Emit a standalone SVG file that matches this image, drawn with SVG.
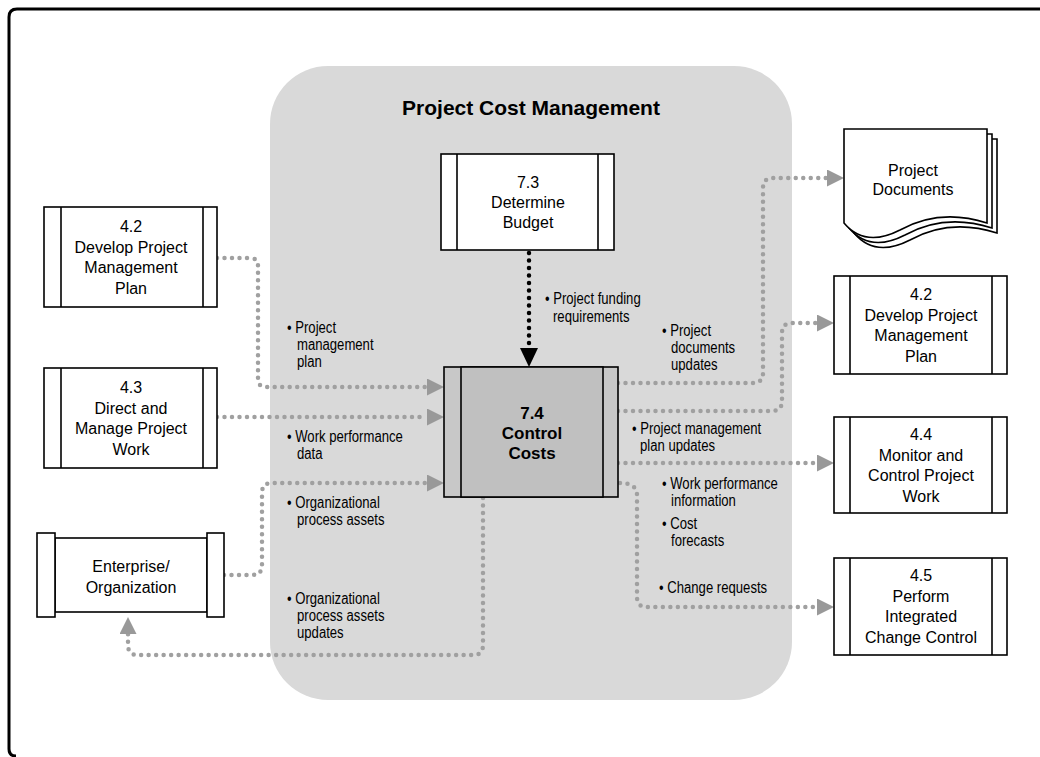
<svg xmlns="http://www.w3.org/2000/svg" width="1040" height="757" viewBox="0 0 1040 757">
<defs>
<style>
.box{fill:#fff;stroke:#000;stroke-width:1.6}
.cc{fill:#c0c0c0;stroke:#000;stroke-width:1.6}
.ccs{fill:#c8c8c8;stroke:#000;stroke-width:1.6}
.nt{font-family:"Liberation Sans",Arial,sans-serif;font-size:16px;text-anchor:middle;fill:#000}
.bt{font-family:"Liberation Sans",Arial,sans-serif;font-size:17px;font-weight:bold;text-anchor:middle;fill:#000}
.lb{font-family:"Liberation Sans",Arial,sans-serif;font-size:16px;fill:#000}
.gd{fill:none;stroke:#a0a0a0;stroke-width:4.5;stroke-linecap:round;stroke-dasharray:0 7.5}
.bd{fill:none;stroke:#000;stroke-width:4.5;stroke-linecap:round;stroke-dasharray:0 7.5}
</style>
<marker id="ga" viewBox="0 0 17 17" refX="0" refY="8.5" markerWidth="17" markerHeight="17" markerUnits="userSpaceOnUse" orient="auto">
<path d="M0,0 L17,8.5 L0,17 Z" fill="#999"/>
</marker>
</defs>
<rect width="1040" height="757" fill="#fff"/>
<path d="M1040,9 H17 Q9,9 9,17 V749 Q9,756 16,756" fill="none" stroke="#000" stroke-width="3"/>
<rect id="scope" x="270" y="66" width="522" height="634" rx="58" ry="58" fill="#d9d9d9"/>
<text x="531" y="115" font-family="Liberation Sans,Arial,sans-serif" font-size="21" font-weight="bold" text-anchor="middle">Project Cost Management</text>

<g id="connectors">
<path class="gd" d="M217,258 H250 Q258,258 258,266 V379 Q258,387 266,387 H427" marker-end="url(#ga)"/>
<path class="gd" d="M217,417 H427" marker-end="url(#ga)"/>
<path class="gd" d="M224,575 H252 Q262,575 262,565 V493 Q262,483 272,483 H427" marker-end="url(#ga)"/>
<path class="gd" d="M483,498 V645 Q483,655 473,655 H138 Q128,655 128,645 V634" marker-end="url(#ga)"/>
<path class="gd" d="M618,383 H753 Q763,383 763,373 V188 Q763,178 773,178 H827" marker-end="url(#ga)"/>
<path class="gd" d="M618,411 H772 Q782,411 782,401 V333 Q782,323 792,323 H817" marker-end="url(#ga)"/>
<path class="gd" d="M618,463 H817" marker-end="url(#ga)"/>
<path class="gd" d="M620,483 Q637,483 637,495 V597 Q637,607 647,607 H817" marker-end="url(#ga)"/>
<path class="bd" d="M529,253 V346"/>
<path d="M520,348 L538,348 L529,367 Z" fill="#000"/>
</g>

<g id="n73">
<rect class="box" x="441" y="154" width="173" height="96"/>
<line x1="457" y1="154" x2="457" y2="250" stroke="#000" stroke-width="1.6"/>
<line x1="598" y1="154" x2="598" y2="250" stroke="#000" stroke-width="1.6"/>
<text class="nt" x="528" y="188">7.3</text>
<text class="nt" x="528" y="208">Determine</text>
<text class="nt" x="528" y="228">Budget</text>
</g>

<g id="n74">
<rect class="ccs" x="444" y="367" width="174" height="130"/>
<rect class="cc" x="461" y="367" width="142" height="130"/>
<text class="bt" x="532" y="419">7.4</text>
<text class="bt" x="532" y="439">Control</text>
<text class="bt" x="532" y="459">Costs</text>
</g>

<g id="n42l">
<rect class="box" x="44" y="207" width="173" height="100"/>
<line x1="61" y1="207" x2="61" y2="307" stroke="#000" stroke-width="1.6"/>
<line x1="203" y1="207" x2="203" y2="307" stroke="#000" stroke-width="1.6"/>
<text class="nt" x="131" y="232">4.2</text>
<text class="nt" x="131" y="252.5">Develop Project</text>
<text class="nt" x="131" y="273">Management</text>
<text class="nt" x="131" y="293.5">Plan</text>
</g>

<g id="n43">
<rect class="box" x="44" y="368" width="173" height="100"/>
<line x1="61" y1="368" x2="61" y2="468" stroke="#000" stroke-width="1.6"/>
<line x1="203" y1="368" x2="203" y2="468" stroke="#000" stroke-width="1.6"/>
<text class="nt" x="131" y="393">4.3</text>
<text class="nt" x="131" y="413.5">Direct and</text>
<text class="nt" x="131" y="434">Manage Project</text>
<text class="nt" x="131" y="454.5">Work</text>
</g>

<g id="nent">
<rect class="box" x="55" y="538" width="152" height="74"/>
<rect class="box" x="37" y="533" width="18" height="84"/>
<rect class="box" x="207" y="533" width="17" height="84"/>
<text class="nt" x="131" y="572">Enterprise/</text>
<text class="nt" x="131" y="593">Organization</text>
</g>

<g id="ndocs">
<path class="box" d="M854,139 H997 V233 Q950,218 910,240 Q875,258 854,233 Z"/>
<path class="box" d="M849,134 H992 V228 Q945,213 905,235 Q870,253 849,228 Z"/>
<path class="box" d="M844,129 H987 V223 Q940,208 900,230 Q865,248 844,223 Z"/>
<text class="nt" x="913" y="176">Project</text>
<text class="nt" x="913" y="195">Documents</text>
</g>

<g id="n42r">
<rect class="box" x="834" y="276" width="173" height="98"/>
<line x1="850" y1="276" x2="850" y2="374" stroke="#000" stroke-width="1.6"/>
<line x1="992" y1="276" x2="992" y2="374" stroke="#000" stroke-width="1.6"/>
<text class="nt" x="921" y="300">4.2</text>
<text class="nt" x="921" y="321">Develop Project</text>
<text class="nt" x="921" y="341">Management</text>
<text class="nt" x="921" y="362">Plan</text>
</g>

<g id="n44">
<rect class="box" x="834" y="417" width="173" height="96"/>
<line x1="850" y1="417" x2="850" y2="513" stroke="#000" stroke-width="1.6"/>
<line x1="992" y1="417" x2="992" y2="513" stroke="#000" stroke-width="1.6"/>
<text class="nt" x="921" y="440">4.4</text>
<text class="nt" x="921" y="461">Monitor and</text>
<text class="nt" x="921" y="481">Control Project</text>
<text class="nt" x="921" y="502">Work</text>
</g>

<g id="n45">
<rect class="box" x="834" y="558" width="173" height="97"/>
<line x1="850" y1="558" x2="850" y2="655" stroke="#000" stroke-width="1.6"/>
<line x1="992" y1="558" x2="992" y2="655" stroke="#000" stroke-width="1.6"/>
<text class="nt" x="921" y="581">4.5</text>
<text class="nt" x="921" y="602">Perform</text>
<text class="nt" x="921" y="622">Integrated</text>
<text class="nt" x="921" y="643">Change Control</text>
</g>

<g id="labels" transform="scale(0.82 1)">
<text class="lb" x="664.6" y="304">• Project funding</text>
<text class="lb" x="674.4" y="322">requirements</text>
<text class="lb" x="350" y="333">• Project</text>
<text class="lb" x="362.2" y="350">management</text>
<text class="lb" x="362.2" y="367">plan</text>
<text class="lb" x="350" y="442">• Work performance</text>
<text class="lb" x="362.2" y="459">data</text>
<text class="lb" x="350" y="508">• Organizational</text>
<text class="lb" x="362.2" y="525">process assets</text>
<text class="lb" x="350" y="604">• Organizational</text>
<text class="lb" x="362.2" y="621">process assets</text>
<text class="lb" x="362.2" y="638">updates</text>
<text class="lb" x="807.3" y="336">• Project</text>
<text class="lb" x="818.3" y="353">documents</text>
<text class="lb" x="818.3" y="370">updates</text>
<text class="lb" x="770.7" y="434">• Project management</text>
<text class="lb" x="780.5" y="451">plan updates</text>
<text class="lb" x="807.3" y="489">• Work performance</text>
<text class="lb" x="818.3" y="506">information</text>
<text class="lb" x="807.3" y="529">• Cost</text>
<text class="lb" x="818.3" y="546">forecasts</text>
<text class="lb" x="803.7" y="593">• Change requests</text>
</g>
</svg>
